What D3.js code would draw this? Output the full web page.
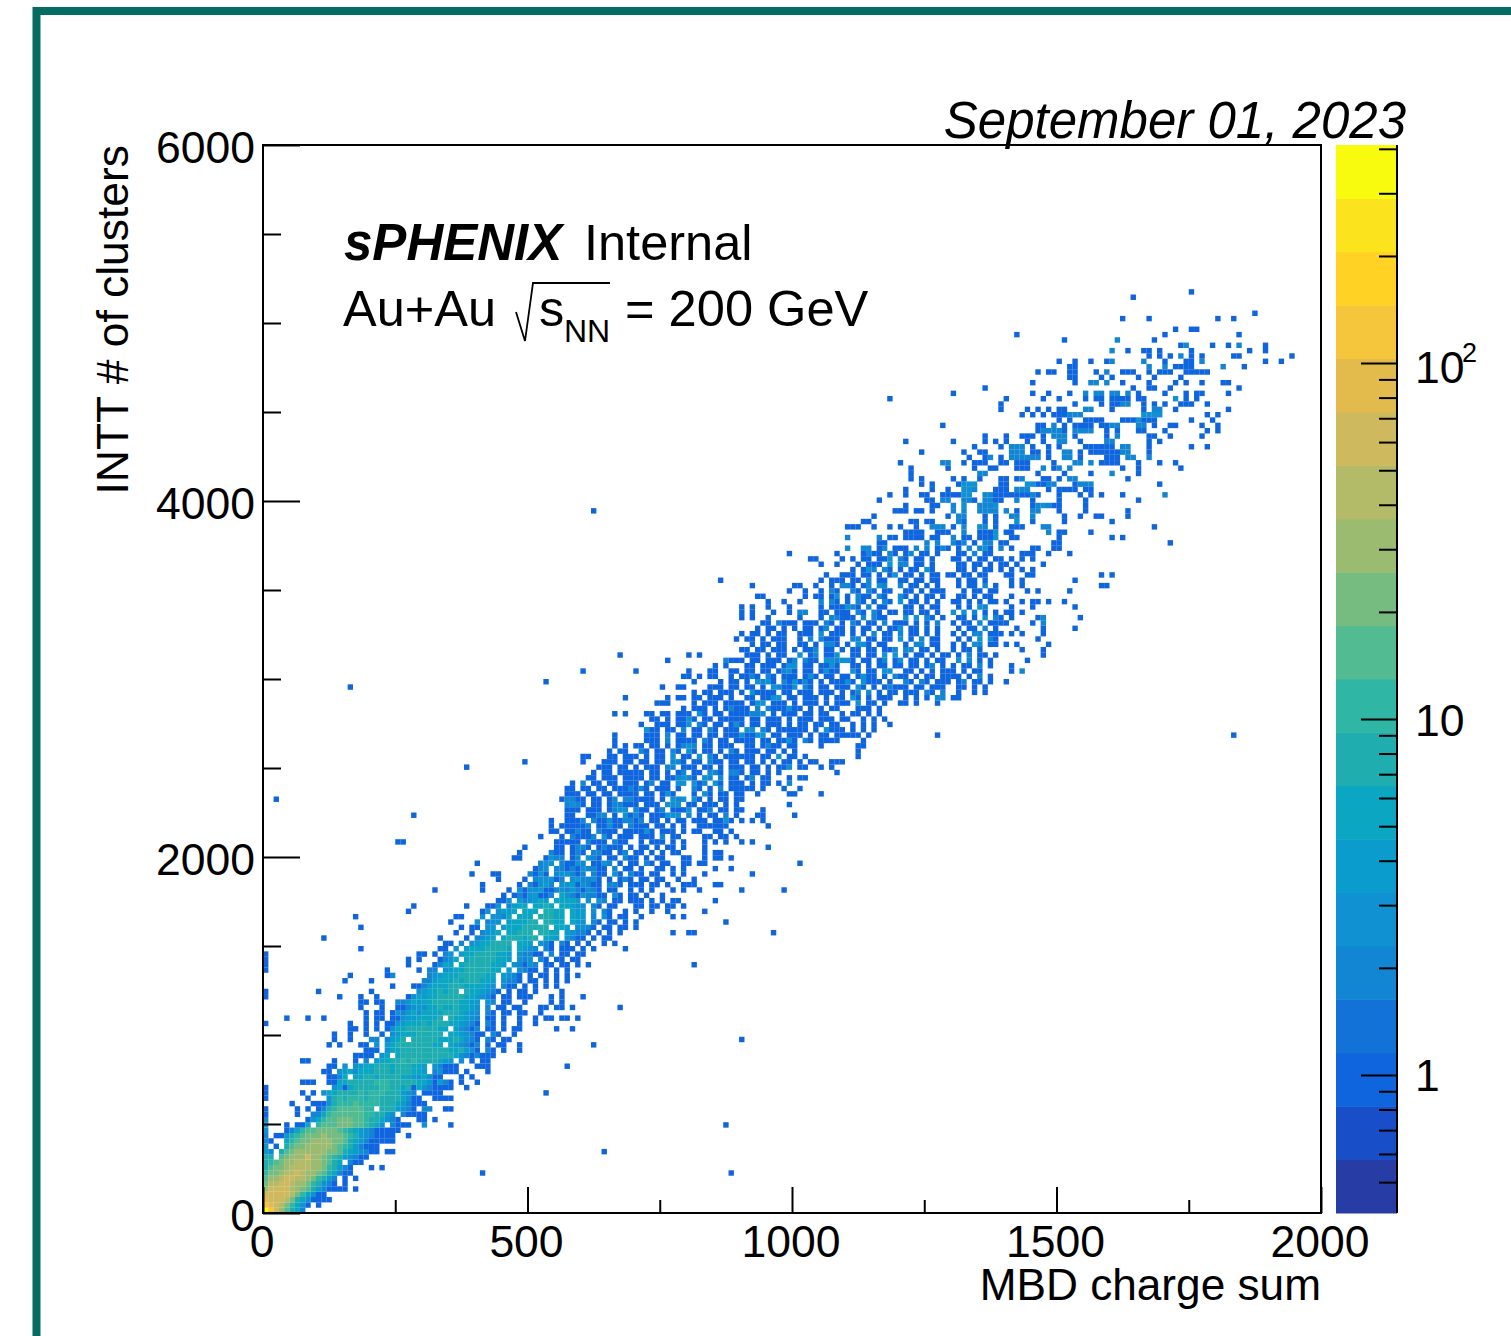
<!DOCTYPE html>
<html><head><meta charset="utf-8">
<script src="https://cdn.jsdelivr.net/npm/d3@7/dist/d3.min.js"></script>
<style>html,body{margin:0;padding:0;background:#fff}svg{display:block}text{font-family:"Liberation Sans",Arial,sans-serif;fill:#000}</style>
</head><body><svg id="c" width="1511" height="1336"></svg>
<script>
const xTicksMajor=[0,500,1000,1500,2000];
const xTicksMinor=[250,750,1250,1750];
const yTicksMajor=[0,2000,4000,6000];
const yTicksMinor=[500,1000,1500,2500,3000,3500,4500,5000,5500];
const zTicksMajor=[1,10,100];
const zTicksMinor=[0.5,0.6,0.7,0.8,0.9,2,3,4,5,6,7,8,9,20,30,40,50,60,70,80,90,200,300,400];
const bandColors=["#283ca6","#184fc9","#0f65de","#1372d8","#1285d3","#0f91d2","#0a9ccc","#0ba6c2","#1fadb0","#2fb6a4","#52bb92","#76bc80","#9abb70","#b4bb68","#cfb95e","#e2bb4c","#f5c63c","#ffd224","#fbe41e","#f9fb0e"];
const letterCounts={a:12,b:16,c:22,d:30,e:40,f:55,g:75,h:100,i:140,j:190,k:260,l:380};
const xBinWidth=10,yBinWidth=30;
// each row: [y bin, "tens:cells tens:cells"]; a token covers x bins tens*10 + position; '.' = empty
const rowsLow=[
[0,"0:lifdb852"],[1,"0:igfeca631. 1:1"],[2,"0:gfffec9531 1:111"],[3,"0:fffffeca53 1:11"],[4,"0:dffffedcb8 1:421111.1"],[5,"0:ceeffeddca 1:7321.1"],
[6,"0:bddeffeedc 1:a842.1.1"],[7,"0:accdeefedd 1:cb85211 4:.1 8:........1"],[8,"0:9bccdeeeed 1:dca7421 2:1.1"],[9,"0:8abcddeeed 1:dcb85.211"],[10,"0:79.bcdddfd 1:dcba743211"],
[11,"0:42.8bcdddd 1:ddccb96432 2:11.11 6:....1"],[12,"0:3.1.9bccdd 1:dddcba7421 2:11"],[13,"0:21..5abccd 1:dddccb9642 2:11111"],[14,"0:2.1137abcc 1:cdcccba743 2:21111..1"],[15,"0:3...126abb 1:ccccba9643 2:211111"],
[16,"0:4...1.115. 1:abbbcccbba 2:863.2111 3:3....1 8:.......1"],[17,"0:2.......13 1:5abbcccbba 2:986321...1 3:1.1"],[18,"0:1.....1..2 1:25abbbbbba 2:a9743.2111 3:1"],[19,"0:1.....1.1. 1:128abbbbba 2:a.9974321. 3:22..11"],[20,"0:.....1...1 1:1138aaabaa 2:aa99864211 3:1"],
[21,"0:1.......1. 1:..37a9aaa9 2:aa98975311 3:..1111"],[22,"0:1......1.1 1:.3568789a8 2:aaa897432. 3:1111 5:...1"],[23,"0:1 1:...3516799 2:99aa975815 3:321111..1"],[24,"0:.......111 1:..11567789 2:9aaa998975 3:531421.1 4:1"],
[25,"1:..1125.657 2:8679786643 3:5311...1.1"],[26,"1:.11.345365 2:6787688756 3:4.23111.1 4:..1"],[27,"1:..11.3.346 2:5779688766 3:4.32111 4:111 5:.......1"],[28,"0:.......11 1:...1...1.2 2:.45678a8a8 3:977544.3.1 4:.11"],[29,"1:.......111 2:1.36.58789 3:9888775321 4:2111"],
[30,"1:.........1 2:11.3568879 3:9887765743 4:1.21.1..1"],[31,"1:..1.1...11 2:.3.4689998 3:8766.54321 4:2.1.11..1 6:..1"],[32,"1:...1..1 2:22.2467.88 3:8786657532 4:1.21.11 9:1"],[33,"1:...1..1..1 2:..1.346668 3:7878.65432 4:11.21..1"],[34,"1:......11.1 2:.1.1356787 3:87756.4321 4:2.11.1.11 5:.....1..1"],
[35,"0:1 1:......1..1 2:.1.1134565 3:7688765432 4:1.21.1..1 5:.1"],[36,"0:....1...1 1:.1.......1 2:.11.113445 3:5668.76543 4:2.11.1..1 5:.1.11.11.1"],[37,"1:.........1 2:.11.132453 3:5566787543 4:3.21.11.11 5:..1"],[38,"1:........1 2:..1..11234 3:3557667554 4:3.2.11.11 5:..11.11.1 6:.......1"],[39,"1:........11 2:.11..22354 3:6677887654 4:4.32.11..1 5:....1.1"],
[40,"0:1 1:....1...1 2:.1.....135 3:4667888765 4:4321.11.11 5:1...1.1 6:1"],[41,"0:1 1:1 2:1........3 3:4567687.76 4:54321.1.11 5:.1....1"],[42,"2:....1...11 3:2455678765 4:6543.211.1 5:.1.1.1"],[43,"1:.....1 2:1 3:2245567678 4:7654.3221 5:11.1.1.1"],[44,"1:......1 2:...12 3:.234556778 4:8765.4321 5:1.11.1.1.1"],
[45,"0:1 2:...1.....1 3:.22.346678 4:87765.4.32 5:11.1.1.1"],[46,"0:1 2:.......1 3:..1254.678 4:877654.321 5:32.11.11.1 6:.1 8:.1"],[47,"0:1 2:.......1.1 3:...1235.67 4:7877654.32 5:3.21.11.11"],[48,"0:1 2:.........1 3:1.1.23.456 4:7787654.32 5:211.2.11.1 6:1"],[49,"1:........1 3:...11.3.46 4:5677876.54 5:32.21.111. 6:1.1.....1"],
[50,"3:....11.2.3 4:4567787.65 5:4.321.21.1 6:.1..1.1"],[51,"1:.1 3:...1....1 4:2345.67876 5:77.654.321 6:1.1.11"],[52,"3:......1..1 4:.2345.5677 5:8.7765.432 6:21.1.1.1 7:.......1 8:11 9:......1"],[53,"1:........1 3:.......1.1 4:1.34.45667 5:7887.654.3 6:321.11.11 7:1"],[54,"3:.....1 4:3.233.4556 5:77.8766.54 6:3.21.11.1 7:1 8:.......1"],
[55,"1:.......1 3:......11 4:.3.3325.56 5:6.78766.54 6:4.2.31.11 7:.1.....1.1"],[56,"2:.......1 4:.13.3445.5 5:66.7766.54 6:4.3.21..1 7:1..1..1 8:...1"],[57,"2:........1 3:........1 4:..113.2456 5:.5676.6543 6:3.21.11 7:11.11.11.1"],[58,"4:....113.42 5:3454.55654 6:.3.32.11.1 7:11.1.1.11 8:.....1"]];
const rowsMid=[
[59,"4:.....1.121 5:34112.5321 6:32211.31.1 7:1.1..1"],[60,"3:..1 4:.1....1.31 5:3341123242 6:1321.11..1 7:.1.1...1.1 8:..1 9:1.......1"],[61,"4:.1......1 5:21342.3341 6:3211.221.1 7:11.11.1..1 8:11...11"],[62,"4:....1....1 5:.233312.34 6:2231.1.121 7:.11.11..1. 8:.1"],[63,"3:.........1 4:...11 5:2131.23321 6:2.211.31.2 7:11.11..1.1 8:...1 9:..1"],
[64,"5:.123.22121 6:32211.2.11 7:.1..11.1.1 8:.....1..1"],[65,"4:1 5:..233.2113 6:2.1132.1.1 7:1.21.11..1 8:1.11 10:.1"],[66,"4:.......11 5:...1322.12 6:.321.11.21 7:1.1.11...1 8:1..1.11.1"],[67,"4:........1 5:....211.12 6:1.2211.12. 7:11.1.1.11 8:...1.11"],[68,"4:.........1 5:.....11.12 6:21.12111.1 7:.11.1.11.1 8:...1 9:.....1"],
[69,"2:.....11 5:.....11111 6:.2111.211 7:.1.111.1.1 8:...1.1.1 9:1.1"],[70,"5:..1...1.21 6:112.31.111 7:.111.2.11 8:...11.11.1"],[71,"5:....11.112 6:11.2111.11 7:1131.111.1 8:.11..11.1"],[72,"5:....1.1111 6:12.11311.2 7:111.11.1.1 8:..111111 9:.....1"],[73,"5:....1..111 6:2.21131122 7:12.11.1.11 8:.111.1131 9:1.1.1"],
[74,"2:........1 5:.......11 6:.1122.1.31 7:21.111333 8:2.1.11.2.1 9:...11.....1"],[75,"5:.......111 6:.111.1233 7:211.12.111 8:3.112.11.1 9:1...1"],[76,"5:.......232 6:1.11.12211 7:1.111.333 8:11.111.1.1 9:.........1"],[77,"0:..1 5:......1221 6:1.11.12.22 7:1111.1.323 8:.31.1.11.1 9:1"],[78,"5:.......111 6:.11.11.111 7:1.11.131 8:.1.31.11.1 9:1..1.....1 10:1....1"],
[79,"5:.......11 6:11.11.1112 7:121.111.1 8:.21.1.2.11 9:111.1...1 10:.1"],[80,"5:........1 6:2.11.11.11 7:1.12.11.33 8:.312.31.11 9:1.1.11.1.2"],[81,"6:.11.111.11 7:11.11.1123 8:21.32.2.11 9:.12.11...1 10:.11"],[82,"6:..1.11.111 7:11.11.1.12 8:.11.321.22 9:1.11.1.1 10:........1"],[83,"3:........1 6:...111.11 7:1.111.22.1 8:11.11.1.11 9:1.11.1.113 10:.11..1.1"],
[84,"4:.........1 6:1...111.11 7:.11.11.221 8:.11.211.11 9:.11.1.1.11 10:.1.11..111"],[85,"6:11...11.11 7:1.1.11.3.1 8:1.3.21.111 9:111.11.3.1 10:1.1 11:..1"],[86,"6:.....1.11 7:.21.11.21 8:31.11.1.21 9:.111.11.1 10:1 11:..1"],[87,"6:......1.1 7:11.11.1.12 8:32.11.111 9:.11.1211.1 10:1....1 11:..11"],[88,"6:......1 7:..111.2.11 8:11.21.11.1 9:111.11.113 10:1.21.1111 11:...1"],
[89,"6:......1 7:..111.2.11 8:.11.11.111 9:31133.11.1 10:11.1.11.11 11:111.1 12:.......1 18:...1"],[90,"7:..311.11.2 8:.11.21.111 9:.33.21.111 10:111.1.3111 11:.1.1.1"],[91,"7:.1..111.11 8:3.21.11.13 9:1.11.111.1 10:.11.11.11 11:.1.1.1..1"],[92,"7:...11.1.11 8:31.11.1111 9:1.11.111.1 10:.111.111.1 11:1..1.1.1"],[93,"6:......1.1 7:..11.11.11 8:1.31.11.11 9:11222.1.11 10:1.11.11..1 11:.11.1.1"],
[94,"7:.........1 8:.111.1.121 9:11.2.21113 10:11.1.1.11 11:..111.1"],[95,"7:....111 8:.1.111.111 9:1.133.111 10:1.111.1.11 11:1.3.11.1 12:11.1...1"],[96,"6:........1 7:......1.11 8:.11.111.1 9:.11.1133.1 10:1.111.1.11 11:.31.1.111 12:.1.1.1.22 13:11"],[97,"8:.1.11.111 9:1.31111.11 10:.111.111.1 11:.12.2.1.11 12:.111.21.2 13:.1..1.1"],[98,"1:......1 7:.....1..11 8:....111.11 9:.11.1.3211 10:3.21.11.11 11:1.31.1.121 12:11.11.111 13:.11.1.1"],
[99,"5:...1 8:.1....1.11 9:.1.3231.21 10:3121.1.111 11:31.3111.1 12:.21.21.111 13:.12.11.1 14:1"],[100,"7:.........1 8:1.1.11..1.1 9:1121.21.11 10:1.131.11.1 11:1.1311.1.2 12:11.1.11.11 13:11.1.2.1"],[101,"6:1 7:1 8:1...11..11 9:.11.11.123 10:1.11.1311 11:.31.11.33 12:.11.1.1.11 13:1.1.11 14:.1.2"],[102,"8:.....1.1 9:.11.111.13 10:3.11.1131 11:.11.1.11.1 12:1.11.12.1 13:1.11.2.1 14:.1"],[103,"7:......1 8:.......211 9:1.11.111.1 10:2.211.3323 11:31.11.12.1 12:3.11.1.11 13:.3.2.1.1 14:....1"],
[104,"6:.......1 8:1.1 9:.111.1.11 10:.3.12.113 11:.11.11.3.3 12:.1.11.1.11 13:.1.2.11.1 14:.......1"],[105,"9:11.11.111 10:1.112.11.1 11:.11.11.112 12:.22.11.1 13:1.11.1 14:...1...1"],[106,"9:..1.11.11 10:.11.1.221 11:1.331.11 12:.1.22.11 13:1.1.32.11 14:1.1.....1"],[107,"8:.........1 9:.11.1.111 10:.1.2.2111 11:.22.11.11 12:3.1.2.11 13:.1.1.3.21 14:......1"],[108,"9:1.11.1.11 10:.111.3.111 11:.1.1.2.11 12:2.11.1.1 13:1.1.22.111 14:.1.1...1"],
[109,"9:...1.11.1 10:1.11.12.11 11:.1.11.1.11 12:3.11.1.1 13:.1.11.2.1 14:..1....1 15:...1"],[110,"9:....11.211 10:1.111.21.1 11:.21.11.2.1 12:11.1.1.2 13:1.11.2.111 14:1....1.2"],[111,"9:1.1..1 10:.1...1.221 11:11.2.211 12:.3.3.21.1 13:.11.1.3.21 14:.1....12 15:....1"],[112,"9:1.1...1..1 10:.22..11.11 11:1.21.21.11 12:.11.11.1 13:3.3.2.1.1 14:11.1"],[113,"9:1.1..1...1 10:.....1.111 11:321.2.11 12:.11.1.11 13:.1.1.32 14:.1...1 15:...1"],
[114,"9:.....1..1 10:.1...2.21 11:1.21.1.21 12:3.11.1.1 13:11.1.1.11 14:1..1.11.1 15:.1"],[115,"9:...11 10:..1.11.13 11:1.211.21 12:31.1.11.1 13:.11.1.11 14:.1"],[116,"9:.........1 10:..1..1.21 11:.21.21.11 12:.11.1.111 13:..1.11.11 14:....1.1 15:..1"],[117,"9:..1 10:11..1..1.2 11:21.12.32 12:2.11.1.1 13:.1.11.2.1 14:.1.1 15:........11"],[118,"8:......1 10:.....1.111 11:.11.2.11 12:11.11.11 13:.1.11.1 14:.1.1 15:...1"],
[119,"10:......1..1 11:11.11.1.13 12:.11.1.11.1 13:1.11.11 14:11..11 15:........1 16:1"],[120,"11:.1.132.21 12:1.11.31 13:.11.1.11.1 14:.1.1.1"],[121,"10:.....1..1 11:..1.111.3 12:22.11.1 13:.11.11.1.1 14:1.1....1"],[122,"10:...11....1 11:.1.11.113 12:21.11.1 13:11.1.11.11 14:.1.1.1"],[123,"9:.........1 10:........1 11:...1211.21 12:.12.11.1 13:.11.2.11 14:...111..1 15:..1"],
[124,"11:2..22.12.1 12:11.2.2.121 13:.1.2.231.2 14:.1...11..1 15:1"],
[125,"11:......11 12:.....2.2 13:212.1.22.1 14:1........1 15:1 17:.1"],[126,"11:2.....2.11 12:.1111.11 13:2.11.1113 14:.11 15:1 16:1.1"],[127,"12:.1111..111 13:..2..1113 14:11......2 15:11....1"],[128,"11:111..1..1 12:1..1..222 13:1.2..32.1 14:.111...22 16:........1"],
[129,"11:...11 12:..11.11 13:.21...1.1 14:..3..1 15:.1 16:1"],[130,"11:.....1 12:.........1 13:.22...1.1 14:.22..2 15:.1..1..11 16:...1"],[131,"6:..1 11:.........1 12:11.11.1 13:2.2..2222 14:2.1..22 15:1....1 16:...1"],[132,"12:.1....11 13:2.3..2223 14:.....12321 15:1....1"],[133,"11:......1 12:.....11.22 13:..221.2211 14:..2..1 15:1....1 16:.....1"]];
const rowsHigh=[
[134,"11:........1 12:.1..11..11 13:1133..2211 14:1111121 15:1...1.1.1 16:..1 17:2"],[135,"12:.1....1..1 13:..332...11 14:1.222...1 15:1111.11"],[136,"12:....1.1 13:.1333....1 14:1...331122 15:...1222 16:.........1"],[137,"12:..1.1 13:1.1..1...1 14:1.12...11 15:1.22 16:...1"],[138,"12:..1 13:.....22 14:......1 15:.1....1 16:2....1"],
[139,"12:..1......1 13:....1..11 14:..111..2.1 15:2.2 16:..1..1 17:...1"],[140,"12:1.......22 13:..1.111..1 14:1.111....1 15:...22.2.11 16:11...1...1 17:..1"],[141,"13:...1..12.1 14:.222222.1 15:.22.1....1 16:11.22..2"],[142,"12:....1 13:..1..11 14:.222.11.1 15:.22.1.1111 16:1122...1"],[143,"13:....1....1 14:.222.1..1 15:1....11111 16:1.22...1 17:.....1..1"],
[144,"12:.1 13:1.....1.1 14:1...1..1 15:22..1....2 16:2......1.1"],[145,"13:......1 14:1..111.1.2 15:22.1.....1 16:.2.....11 17:.1.....1"],[146,"14:......1222 15:21.2222..1 16:.1...11 17:1.......1 18:1"],[147,"12:........1 14:......11.2 15:.1.1111.11 16:22...22.1 17:.11....1 18:1"],[148,"15:1.1..1111 16:..1113111 17:.....1...1"],
[149,"14:...1.1.1.1 15:11222 16:......3333 17:........1 18:1"],[150,"13:.........1 14:....1.1.1 15:11...22 16:1.....1.22 17:..1 18:..1"],[151,"13:.........1 15:...1....1 16:1122..1.1 17:1..111..1"],[152,"11:........1 14:1......1 15:1....1.11 16:1111.11 17:..3.1.1"],[153,"13:1 14:.....1..1 15:..1..2.22 16:22.2.1 17:1...1.11 18:..1"],
[154,"13:......1 16:....1..11 17:.1 18:....1"],[155,"14:.....1 15:...1..22.2 16:..1....1 17:..1.1..1 18:.11"],[156,"15:..11....1 16:1....1..1 17:...1"],[157,"14:......1.11 15:..11...1.2 16:..111..1.1 17:11..11111"],[158,"15:..11 16:.......2 17:2.1111 18:.2...1"],
[159,"15:1..1..1..1 16:2.....2 17:1...11.2 18:.........1 19:..1"],[160,"16:.......1.1 17:.1.2.1.1 18:...11 19:....1"],[161,"16:2..1..11.1 17:.....1 18:......1..1"],[162,"17:...12....1 18:..1.2....1"],[163,"15:.1 16:.2......1"],
[164,"14:..1 17:1 18:....1"],[165,"17:..1..11"],[167,"16:..1....1 18:1..1"],[168,"18:.......1"],[171,"16:....1"],[172,"17:.....1"]];
const allRows=[...rowsLow,...rowsMid,...rowsHigh];

const svg=d3.select("#c");
const L=263,R=1321,B=1213,T=145;
const x=d3.scaleLinear().domain([0,2000]).range([L,R]);
const y=d3.scaleLinear().domain([0,6000]).range([B,T]);
const zAxisScale=d3.scaleLog().domain([0.4095,410]).range([B,T]);
const zColor=d3.scaleQuantize().domain([Math.log10(0.4095),Math.log10(410)]).range(bandColors);

function decode(row){
  const out=[];
  for(const tok of row[1].trim().split(/\s+/)){
    if(!tok.includes(":"))continue;
    const [tens,s]=tok.split(":");
    [...s].forEach((ch,i)=>{if(ch!=='.'){const n=letterCounts[ch]||+ch;out.push({xb:+tens*10+i,yb:row[0],n});}});
  }
  return out;
}
const cells=allRows.flatMap(decode);

svg.append("rect").attr("width",1511).attr("height",1336).attr("fill","#fff");
svg.append("path").attr("d","M36.5,1336V11H1511").attr("fill","none").attr("stroke","#056c63").attr("stroke-width",8);

svg.append("g").selectAll("rect").data(cells).join("rect")
 .attr("x",d=>x(d.xb*xBinWidth)).attr("y",d=>y((d.yb+1)*yBinWidth))
 .attr("width",d=>x(xBinWidth)-x(0)+0.1).attr("height",d=>y(0)-y(yBinWidth)+0.1)
 .attr("fill",d=>zColor(Math.log10(d.n)));

svg.append("rect").attr("x",L).attr("y",T).attr("width",R-L).attr("height",B-T).attr("fill","none").attr("stroke","#000").attr("stroke-width",2);

const style=(g,size)=>{g.select(".domain").remove();g.selectAll("line").attr("stroke","#000").attr("stroke-width",2);g.selectAll("text").attr("font-size",size).style("font-family",'"Liberation Sans",Arial,sans-serif').attr("fill","#000");};
const gx=svg.append("g").attr("transform",`translate(0,${B})`);
gx.append("g").call(d3.axisBottom(x).tickValues(xTicksMajor).tickSize(-26).tickPadding(12).tickFormat(d3.format("d"))).call(g=>{style(g,44.5);g.selectAll("text").attr("dx",-1.5);});
gx.append("g").call(d3.axisBottom(x).tickValues(xTicksMinor).tickSize(-13).tickFormat("")).call(g=>style(g,44));
const gy=svg.append("g").attr("transform",`translate(${L},0)`);
gy.append("g").call(d3.axisLeft(y).tickValues(yTicksMajor).tickSize(-37).tickPadding(8).tickFormat(d3.format("d"))).call(g=>{style(g,44.5);g.selectAll("text").attr("dy",17);});
gy.append("g").call(d3.axisLeft(y).tickValues(yTicksMinor).tickSize(-18).tickFormat("")).call(g=>style(g,44));

const bandH=(B-T)/bandColors.length;
svg.append("g").selectAll("rect").data(bandColors).join("rect")
 .attr("x",1336).attr("width",61).attr("y",(d,i)=>B-(i+1)*bandH).attr("height",bandH+0.5).attr("fill",d=>d);
const gz=svg.append("g").attr("transform","translate(1397,0)");
gz.append("line").attr("y1",T).attr("y2",B).attr("stroke","#000").attr("stroke-width",2);
gz.append("g").call(d3.axisRight(zAxisScale).tickValues(zTicksMajor).tickSize(-36).tickPadding(18).tickFormat(d=>d===100?"10":String(d))).call(g=>{style(g,44.5);g.selectAll("text").attr("dy",d=>d===100?19:16);});
gz.append("g").call(d3.axisRight(zAxisScale).tickValues(zTicksMinor).tickSize(-18).tickFormat("")).call(g=>style(g,44));
svg.append("text").attr("x",1462).attr("y",zAxisScale(100)-1).attr("font-size",27).text("2");

svg.append("text").attr("x",R).attr("y",1300).attr("text-anchor","end").attr("font-size",44.2).text("MBD charge sum");
svg.append("text").attr("transform","translate(128,145) rotate(-90)").attr("text-anchor","end").attr("font-size",44.4).text("INTT # of clusters");
svg.append("text").attr("x",1406).attr("y",138).attr("text-anchor","end").attr("font-size",51).attr("font-style","italic").text("September 01, 2023");
svg.append("text").attr("x",344).attr("y",260).attr("font-size",51).attr("font-weight","bold").attr("font-style","italic").text("sPHENIX");
svg.append("text").attr("x",584).attr("y",260).attr("font-size",50.5).text("Internal");
svg.append("text").attr("x",343).attr("y",326).attr("font-size",50.5).text("Au+Au");
svg.append("path").attr("d","M516,312L525,341L533,283H610").attr("fill","none").attr("stroke","#000").attr("stroke-width",1.8);
svg.append("text").attr("x",539).attr("y",326).attr("font-size",50.5).text("s");
svg.append("text").attr("x",564).attr("y",342).attr("font-size",32).text("NN");
svg.append("text").attr("x",625).attr("y",326).attr("font-size",50.6).text("= 200 GeV");
</script></body></html>
